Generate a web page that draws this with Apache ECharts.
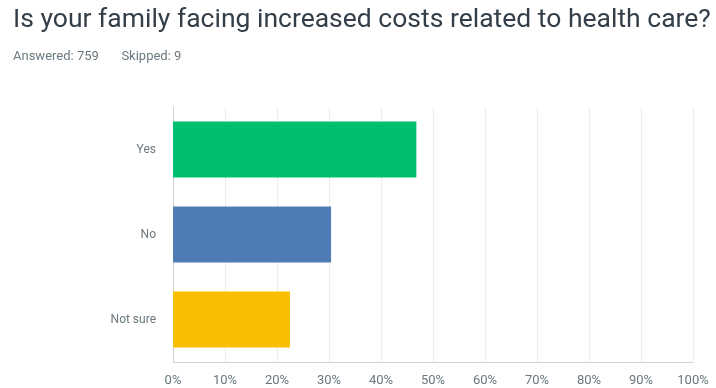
<!DOCTYPE html>
<html><head><meta charset="utf-8">
<script src="https://cdn.jsdelivr.net/npm/echarts@6/dist/echarts.min.js"></script>
<style>html,body{margin:0;padding:0;background:#fff}#c{width:716px;height:388px}</style>
</head><body><div id="c"></div>
<script>
const categories = ["Yes", "No", "Not sure"];
const values = [46.8, 30.4, 22.5];
const barColors = ["#00bf6f", "#507cb6", "#f9be00"];
const tickLabels = ["0%","10%","20%","30%","40%","50%","60%","70%","80%","90%","100%"];
const titleText = "Is your family facing increased costs related to health care?";
const subText = "Answered: 759       Skipped: 9";

const chart = echarts.init(document.getElementById('c'), null, {renderer: 'canvas'});
chart.setOption({
  animation: false,
  title: {
    text: titleText, left: 8, top: 2,
    textStyle: {fontFamily: 'Roboto', fontWeight: 'normal', fontSize: 26.5, color: '#333e48'},
    subtext: subText, subtextStyle: {fontFamily: 'Roboto', fontSize: 13, color: '#6b787f'},
    itemGap: 16
  },
  grid: {left: 173, right: 23, top: 107, bottom: 26},
  xAxis: {
    type: 'value', min: 0, max: 100, interval: 10,
    axisLine: {show: true, lineStyle: {color: '#d0d2d3'}},
    axisTick: {show: false},
    splitLine: {lineStyle: {color: '#ededed'}},
    axisLabel: {fontFamily: 'Roboto', fontSize: 13, color: '#6b787f', margin: 12,
      formatter: v => tickLabels[Math.round(v/10)]}
  },
  yAxis: {
    type: 'category', data: categories, inverse: true,
    axisLine: {show: true, lineStyle: {color: '#d0d2d3'}},
    axisTick: {show: false},
    axisLabel: {fontFamily: 'Roboto', fontSize: 12, color: '#6b787f', margin: 17}
  },
  series: [{
    type: 'bar', barCategoryGap: '34%',
    data: values.map((v, i) => ({value: v, itemStyle: {color: barColors[i]}}))
  }]
});
</script></body></html>
